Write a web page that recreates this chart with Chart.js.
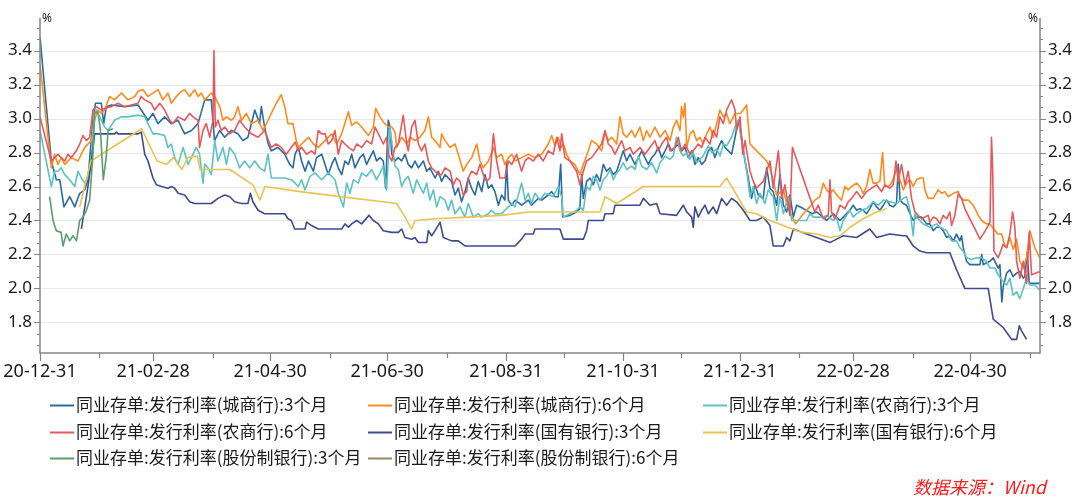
<!DOCTYPE html>
<html>
<head>
<meta charset="utf-8">
<script src="https://cdn.jsdelivr.net/npm/chart.js@4/dist/chart.umd.min.js"></script>
<style>
  html, body { margin: 0; padding: 0; background: #ffffff; }
  #wrap { width: 1080px; height: 498px; position: relative; }
  canvas { display: block; }
</style>
</head>
<body>
<div id="wrap"><canvas id="c" width="1080" height="498"></canvas></div>
<script>
// ---- Data: x = days since 2020-12-31, y = rate (%) ----
const seriesNames = [
  '同业存单:发行利率(城商行):3个月',
  '同业存单:发行利率(城商行):6个月',
  '同业存单:发行利率(农商行):3个月',
  '同业存单:发行利率(农商行):6个月',
  '同业存单:发行利率(国有银行):3个月',
  '同业存单:发行利率(国有银行):6个月',
  '同业存单:发行利率(股份制银行):3个月',
  '同业存单:发行利率(股份制银行):6个月'
];
const seriesColors = ['#2b6ba3','#ff8b1d','#5cc2c2','#e8585b','#3f4a8e','#e8c44f','#5a9f6c','#9c8068'];

const cityBank3M = [[0,3.48],[5.9,2.75],[8.5,2.64],[10.3,2.64],[12.5,2.48],[15.5,2.54],[18.1,2.48],[20.7,2.56],[23.3,2.58],[25,2.64],[27.6,2.99],[28.9,3.09],[32,3.09],[33.2,2.97],[34.6,3.07],[37.2,3.08],[44.1,3.07],[51.1,3.08],[56.3,2.99],[58.9,3.03],[61.5,2.97],[65,3.01],[68.5,2.97],[72,2.99],[75.4,2.91],[79,2.93],[82.4,2.97],[85.9,3.11],[89.3,3.11],[91,2.87],[93.7,2.93],[96.3,2.89],[99.8,2.93],[103.2,2.91],[105.8,2.87],[108.4,2.89],[112,3.05],[114.5,2.97],[115.4,3.07],[117.1,2.95],[119,2.85],[120.6,2.81],[124,2.83],[127.6,2.79],[130.2,2.73],[131.9,2.71],[133,2.79],[134.7,2.83],[136.4,2.75],[138.2,2.69],[140,2.75],[142.5,2.69],[144.2,2.77],[146.9,2.79],[148.6,2.73],[150.3,2.67],[152.1,2.73],[153.8,2.77],[155.5,2.71],[157.3,2.67],[159,2.75],[160.8,2.73],[162.5,2.79],[164.2,2.71],[166.8,2.77],[168.6,2.79],[170.3,2.73],[172,2.77],[173.8,2.81],[175.5,2.75],[177.3,2.77],[179,2.75],[180.2,2.59],[181.6,2.99],[182.5,2.95],[183.4,2.79],[185.1,2.75],[186.8,2.77],[188.6,2.75],[190.3,2.79],[192,2.73],[193.8,2.71],[195.5,2.75],[197.3,2.71],[199.9,2.75],[201.6,2.69],[203.3,2.71],[206,2.65],[207.7,2.69],[209.4,2.63],[211.2,2.67],[214.6,2.63],[216.4,2.55],[218.1,2.59],[219.8,2.51],[221.6,2.57],[223.3,2.65],[225,2.59],[226.8,2.55],[228.5,2.63],[230.3,2.57],[232,2.67],[233.8,2.59],[235.5,2.61],[237.2,2.57],[239,2.49],[240.7,2.55],[242.4,2.52],[243.3,2.75],[244.2,2.52],[246,2.49],[247.7,2.52],[251.1,2.49],[254.6,2.52],[256.3,2.49],[259.8,2.53],[261.6,2.52],[265,2.55],[266.8,2.57],[268.5,2.54],[270.2,2.54],[271.5,2.73],[272.5,2.42],[276.3,2.43],[279.8,2.45],[281.5,2.47],[282.4,2.67],[283.3,2.53],[285,2.63],[286.8,2.65],[288.5,2.61],[290.2,2.67],[292,2.63],[293.7,2.73],[295.4,2.69],[297.2,2.71],[298.9,2.67],[300.7,2.69],[302.4,2.75],[304.1,2.81],[305.9,2.75],[307.6,2.79],[310.2,2.73],[312,2.77],[313.7,2.81],[315.4,2.77],[317.2,2.73],[318.9,2.77],[320.6,2.79],[322.4,2.83],[324.1,2.77],[325.9,2.81],[327.6,2.85],[329.3,2.81],[331.1,2.83],[332.8,2.85],[334.5,2.81],[336.3,2.83],[338,2.77],[339.8,2.81],[341.5,2.73],[343.2,2.77],[345,2.73],[346.7,2.75],[348.5,2.81],[350.2,2.83],[351.9,2.77],[353.7,2.83],[355.4,2.87],[357.1,2.83],[358.9,2.81],[360.6,2.79],[362.4,2.89],[364.1,2.99],[365.8,2.89],[367.6,2.75],[369.3,2.65],[371,2.53],[372.8,2.61],[374.5,2.55],[377.1,2.53],[378.9,2.71],[380.6,2.59],[382.3,2.57],[384.1,2.49],[385.8,2.67],[387.6,2.49],[389.3,2.45],[391,2.55],[392.8,2.42],[394.5,2.49],[398,2.47],[402.5,2.44],[404.9,2.45],[408.4,2.42],[410.1,2.40],[411.9,2.42],[413.6,2.44],[415.3,2.42],[417.1,2.40],[418.8,2.42],[420.5,2.44],[422.3,2.46],[424,2.49],[425.8,2.46],[427.5,2.47],[429.2,2.46],[431,2.44],[432.7,2.47],[434.4,2.51],[436.2,2.48],[437.9,2.46],[439.7,2.49],[441.4,2.52],[443.1,2.49],[444.9,2.48],[446.6,2.50],[447.5,2.73],[448.4,2.52],[450.1,2.50],[451.8,2.49],[453.6,2.44],[455.3,2.40],[457,2.42],[459.6,2.42],[462.3,2.38],[464,2.38],[465.7,2.34],[467.5,2.36],[469.2,2.36],[470.9,2.34],[472.7,2.30],[474.4,2.31],[476.2,2.28],[477.9,2.32],[479.6,2.28],[480.5,2.31],[481.4,2.24],[483.1,2.16],[484.8,2.14],[487.5,2.14],[490.1,2.14],[491,2.20],[491.8,2.14],[495.3,2.16],[497,2.18],[499.6,2.12],[500.5,2.14],[501.5,1.92],[502.2,2.01],[504,2.09],[505.7,2.11],[507.4,2.07],[509.2,2.09],[510.9,2.10],[512.7,2.06],[513.5,2.07],[514.7,2.21],[515.8,2.03],[521.3,2.03]];

const cityBank6M = [[0,3.32],[5.9,2.71],[7.6,2.79],[9.4,2.73],[11.1,2.77],[12.9,2.73],[16.3,2.77],[19.8,2.75],[23.3,2.83],[26.8,2.87],[28.5,2.99],[30.2,3.05],[32,3.03],[33.7,3.05],[36.3,3.13],[38.9,3.11],[42.4,3.15],[45.9,3.11],[49.4,3.13],[51.1,3.16],[53.7,3.17],[56.3,3.13],[58.9,3.15],[61.5,3.17],[64.1,3.11],[66.7,3.15],[68.5,3.09],[71.1,3.13],[73.7,3.16],[75.4,3.17],[78,3.13],[80.6,3.17],[82.4,3.13],[84.1,3.15],[85.9,3.11],[87.6,3.13],[89.3,3.15],[91.1,3.13],[93.7,3.07],[95.4,2.99],[97.2,3.01],[99.8,2.99],[101.5,3.01],[103.2,3.07],[105,2.99],[107.6,3.03],[110.2,2.97],[113.7,2.99],[116.3,2.93],[118.9,2.99],[120.6,3.03],[123.2,3.09],[125.8,3.14],[127.6,3.07],[129.3,2.97],[131.9,2.97],[133.6,2.87],[134.9,2.83],[136.4,2.85],[138.2,2.87],[140,2.89],[142.5,2.85],[145.1,2.83],[148.6,2.87],[152.1,2.91],[154.7,2.85],[157.3,2.91],[160.8,3.04],[162.5,2.96],[165.1,2.98],[167.7,2.95],[171.2,2.90],[173.8,2.95],[175,3.06],[177.3,3.01],[179,2.98],[181.6,2.95],[183.4,2.95],[185.1,2.92],[186,2.83],[186.8,2.85],[188.6,2.89],[191.2,2.85],[193,2.89],[195.5,2.87],[198.1,2.89],[200.7,2.93],[202.5,3.01],[204.2,2.89],[206,2.87],[208.6,2.83],[209.4,2.91],[211.2,2.87],[213.8,2.83],[216.4,2.85],[218.1,2.79],[220.7,2.69],[222.5,2.73],[225.1,2.77],[227.7,2.85],[229.4,2.75],[231.1,2.71],[233.8,2.75],[236.4,2.83],[238.1,2.77],[240.7,2.79],[242.4,2.73],[244.2,2.77],[246,2.79],[247.7,2.75],[251.1,2.77],[254.6,2.79],[258.1,2.77],[261.6,2.79],[265,2.85],[266.8,2.90],[268.5,2.84],[270.2,2.89],[271.8,2.83],[272.9,2.85],[274.6,2.79],[276.3,2.75],[278.9,2.73],[281.5,2.67],[283.3,2.73],[285.9,2.81],[287.6,2.87],[290.2,2.85],[292.8,2.81],[294.6,2.92],[296.3,2.87],[298.1,2.89],[300.7,2.85],[302.4,3.01],[304.1,2.91],[305.9,2.89],[308.5,2.93],[310.2,2.89],[312.8,2.95],[314.6,2.87],[316.3,2.93],[318,2.89],[320.6,2.95],[323.3,2.89],[325.9,2.93],[328.5,2.87],[330.2,2.95],[331.9,2.99],[333.7,2.93],[334.5,3.07],[335.4,3.01],[336.3,3.09],[337.2,2.83],[338.9,2.91],[340.6,2.93],[342.4,2.87],[344.1,2.89],[345.8,2.85],[347.6,2.91],[349.3,2.95],[351,2.89],[352.8,2.97],[354.5,3.05],[356.3,3.01],[358,3.03],[359.7,2.97],[362.4,3.03],[365,3.03],[366.7,3.05],[368.4,3.08],[370.2,2.85],[371.9,2.83],[375.4,2.79],[378.9,2.75],[380.6,2.71],[384.1,2.55],[387.6,2.58],[389.3,2.50],[391,2.45],[394,2.38],[398,2.44],[401.4,2.48],[404,2.52],[406.6,2.54],[408.4,2.62],[410.1,2.58],[411.9,2.56],[413.6,2.58],[416.2,2.54],[417.9,2.52],[419.7,2.60],[421.4,2.58],[423.2,2.60],[425.8,2.62],[427.5,2.60],[429.2,2.56],[431,2.60],[432.7,2.70],[434.4,2.62],[436.2,2.62],[437.9,2.63],[439.3,2.80],[440.5,2.60],[442.3,2.60],[444,2.62],[446.6,2.70],[448.4,2.64],[450.1,2.58],[451.8,2.62],[453.6,2.64],[455.3,2.60],[457,2.64],[458.8,2.65],[460.5,2.65],[461.4,2.58],[463.1,2.53],[465.7,2.53],[468.3,2.58],[470.1,2.56],[471.8,2.57],[473.6,2.54],[476.2,2.56],[478.8,2.57],[479.6,2.54],[481.4,2.52],[484,2.52],[486.6,2.49],[489.2,2.43],[490.9,2.40],[493.5,2.38],[495.3,2.38],[497.9,2.34],[499.6,2.32],[501.4,2.32],[503.1,2.25],[504,2.24],[505.7,2.30],[507.4,2.23],[509.2,2.29],[510.9,2.16],[512.7,2.12],[514.4,2.18],[516.1,2.34],[518.7,2.24],[521.3,2.18]];

const ruralBank3M = [[0,2.93],[5.9,2.60],[7.6,2.69],[9.4,2.69],[11.1,2.71],[12.9,2.67],[15.5,2.64],[18.1,2.60],[19.8,2.69],[21.6,2.65],[23.3,2.62],[25,2.65],[26.8,2.75],[28.2,3.03],[29.4,3.05],[31.1,3.01],[33.7,2.95],[35.5,2.93],[38.9,2.99],[42.4,3.01],[45.9,3.01],[51.1,3.02],[54.6,3.01],[57.2,2.95],[58.9,2.91],[61.5,2.91],[65,2.90],[66.7,2.83],[68.5,2.85],[70.2,2.77],[72,2.73],[74.6,2.83],[77.2,2.73],[79.8,2.79],[81.5,2.83],[83.2,2.79],[85,2.62],[85.9,2.73],[87.6,2.71],[89.3,2.67],[91.1,2.87],[92.8,2.75],[95.4,2.83],[97.2,2.73],[98.9,2.83],[101.5,2.79],[104.1,2.71],[106.7,2.75],[109.3,2.71],[112,2.75],[114.5,2.71],[117.1,2.69],[118.9,2.79],[120.6,2.65],[124,2.65],[127.6,2.65],[131,2.64],[133,2.62],[134.7,2.60],[136.4,2.64],[138.2,2.58],[140.8,2.66],[143.4,2.68],[145.1,2.66],[146.9,2.64],[150.3,2.68],[152.1,2.66],[153.8,2.64],[155.5,2.56],[158.2,2.48],[159.9,2.62],[161.6,2.56],[163.4,2.64],[166,2.62],[167.7,2.68],[170.3,2.66],[172.9,2.70],[175.5,2.64],[177.3,2.68],[179,2.72],[180.7,2.58],[182.5,2.95],[184.2,2.79],[185.1,2.72],[186.8,2.70],[188.6,2.60],[190.3,2.64],[192,2.66],[194.6,2.56],[196.4,2.64],[198.1,2.60],[199.9,2.56],[201.6,2.62],[203.3,2.52],[205.1,2.58],[206.8,2.48],[208.6,2.54],[211.2,2.52],[212.9,2.46],[214.6,2.52],[216.4,2.44],[219,2.48],[221.6,2.42],[223.3,2.50],[225.9,2.42],[228.5,2.44],[230.3,2.42],[233.8,2.44],[235.5,2.46],[237.2,2.44],[240.7,2.44],[242.4,2.46],[246,2.50],[247.7,2.48],[251.1,2.62],[252.9,2.52],[254.6,2.56],[256.3,2.50],[258.1,2.56],[260.7,2.52],[263.3,2.56],[265.9,2.55],[267.6,2.54],[270.2,2.60],[272,2.54],[272.9,2.42],[276.3,2.44],[279.8,2.46],[281.5,2.48],[283.3,2.46],[285,2.60],[286.8,2.58],[288.5,2.66],[290.2,2.64],[292,2.58],[293.7,2.64],[295.4,2.66],[297.2,2.70],[298.9,2.64],[300.7,2.68],[302.4,2.70],[304.1,2.74],[305.9,2.70],[308.5,2.72],[310.2,2.70],[312,2.78],[313.7,2.72],[316.3,2.70],[318.9,2.74],[321.5,2.68],[323.3,2.74],[325.9,2.78],[328.5,2.76],[330.2,2.78],[331.9,2.89],[333.7,2.81],[335.4,2.78],[337.2,2.80],[338.9,2.76],[340.6,2.80],[342.4,2.74],[344.1,2.76],[345.8,2.78],[348.5,2.84],[350.2,2.80],[352.8,2.82],[354.5,2.78],[356.3,2.85],[358,2.84],[360.6,2.89],[362.4,2.95],[364.1,2.99],[365.8,2.87],[368.4,2.70],[370.2,2.54],[371.9,2.60],[373.6,2.50],[375.4,2.56],[378,2.50],[379.7,2.58],[382.3,2.54],[384.1,2.40],[385.8,2.54],[387.6,2.44],[390.2,2.54],[391.9,2.40],[394.5,2.40],[399.7,2.40],[401.4,2.44],[403.2,2.42],[404.9,2.42],[408.4,2.42],[410.1,2.43],[413.6,2.40],[415.3,2.42],[417.1,2.34],[418.8,2.40],[422.3,2.46],[424,2.42],[425.8,2.44],[428.4,2.46],[431,2.47],[432.7,2.49],[434.4,2.51],[437.1,2.49],[439.7,2.52],[443.1,2.51],[446.6,2.50],[450.1,2.53],[451.8,2.54],[453.6,2.46],[455.3,2.31],[456.2,2.44],[457,2.42],[460.5,2.38],[464,2.36],[467.5,2.38],[469.2,2.36],[472.7,2.34],[475.3,2.28],[477.9,2.28],[479.6,2.24],[481.4,2.22],[483.1,2.18],[485.7,2.17],[488.3,2.18],[490.9,2.18],[493.5,2.16],[495.3,2.12],[497.9,2.12],[499.6,2.08],[502.2,2.04],[504,2.02],[505.7,2.06],[507.4,1.96],[509.2,1.98],[510.9,1.94],[512.7,2.00],[514.4,2.06],[516.1,2.02],[518.7,2.02],[521.3,1.99]];

const ruralBank6M = [[0,3.01],[5.9,2.75],[7.6,2.77],[9.4,2.79],[11.1,2.77],[12.9,2.75],[14.6,2.79],[16.3,2.77],[18.9,2.81],[20.7,2.85],[22.4,2.90],[24.2,2.87],[25.9,2.89],[27.6,3.05],[29.4,3.07],[32,3.05],[33.7,3.06],[37.2,3.07],[40.7,3.09],[44.1,3.07],[47.6,3.08],[51.1,3.09],[52.8,3.13],[54.6,3.11],[58,3.09],[59.8,3.05],[62.4,3.09],[65,3.05],[67.6,2.99],[69.3,2.97],[72,3.01],[75.4,2.99],[78,3.03],[79.8,3.01],[82.4,2.99],[83.2,2.83],[85,2.93],[86.7,2.97],[88.5,2.89],[90.2,2.99],[90.7,3.40],[91.4,2.95],[92.8,2.99],[94.5,2.93],[96.3,2.95],[98.9,2.91],[101.5,2.93],[104.1,2.99],[106.7,2.95],[110.2,2.91],[113.7,2.89],[117.1,2.93],[120.6,2.83],[123.2,2.85],[125.8,2.83],[128.4,2.79],[131,2.83],[133,2.86],[134.7,2.81],[136.4,2.83],[139,2.79],[141.6,2.81],[143.4,2.79],[145.1,2.93],[146.9,2.91],[148.6,2.91],[150.3,2.85],[152.1,2.87],[153.8,2.93],[155.5,2.79],[157.3,2.87],[159,2.85],[160.8,2.83],[163.4,2.81],[165.1,2.85],[167.7,2.83],[170.3,2.87],[172.9,2.85],[174.7,2.95],[177.3,2.89],[179,2.85],[180.7,2.89],[181.6,2.79],[183.4,2.75],[185.1,2.83],[186.8,2.85],[189.4,3.02],[191.2,2.85],[192,2.81],[193.8,2.95],[195.5,2.99],[197.3,2.85],[199,2.81],[200.7,2.85],[202.5,2.75],[204.2,2.71],[206,2.69],[207.7,2.67],[209.4,2.67],[211.2,2.71],[213.8,2.69],[215.5,2.61],[217.2,2.65],[219,2.63],[220.7,2.55],[222.5,2.57],[223.3,2.65],[225.1,2.69],[227.7,2.67],[229.4,2.73],[231.1,2.67],[232.9,2.63],[234.6,2.65],[236.4,2.91],[238.1,2.75],[239.8,2.65],[242.4,2.65],[244.2,2.75],[246,2.73],[248.5,2.79],[251.1,2.69],[252.9,2.75],[254.6,2.77],[257.2,2.75],[259.8,2.79],[262.4,2.75],[265,2.81],[267.6,2.79],[269.4,2.89],[271.1,2.81],[272,2.91],[273.7,2.77],[276.3,2.75],[279.8,2.69],[281.5,2.61],[283.3,2.69],[285,2.75],[287.6,2.77],[290.2,2.81],[292.8,2.85],[294.6,2.93],[296.3,2.85],[298.1,2.83],[299.8,2.79],[301.5,2.83],[303.3,2.87],[305,2.81],[307.6,2.83],[309.3,2.79],[311.1,2.81],[312.8,2.83],[315.4,2.79],[318,2.83],[320.6,2.87],[322.4,2.81],[324.1,2.85],[326.7,2.89],[328.5,2.81],[331.1,2.83],[332.8,2.89],[334.5,2.81],[336.3,2.85],[338.9,2.79],[340.6,2.81],[343.2,2.85],[345,2.83],[346.7,2.89],[349.3,2.85],[351,2.93],[352.8,2.89],[354.5,3.01],[356.3,2.97],[358,3.05],[359.7,3.09],[360.6,3.11],[362.4,3.05],[363.2,2.93],[365,3.01],[366.4,2.79],[367.6,2.87],[370.2,2.69],[371.9,2.63],[373.6,2.59],[377.1,2.63],[380.6,2.75],[382.3,2.59],[385,2.81],[386.7,2.53],[388.4,2.61],[391,2.43],[392.3,2.83],[404,2.45],[405.8,2.49],[408.4,2.41],[411,2.43],[411.9,2.64],[412.7,2.45],[414.5,2.41],[417.1,2.49],[419.7,2.47],[421.4,2.51],[423.2,2.53],[425.8,2.57],[428.4,2.53],[431,2.57],[433.6,2.59],[436.2,2.61],[438.8,2.57],[440.5,2.61],[443.1,2.59],[444.9,2.61],[446.3,2.75],[447.5,2.63],[449.2,2.73],[451,2.61],[452.7,2.69],[454.4,2.53],[456.2,2.45],[457.9,2.43],[459.6,2.41],[461.4,2.42],[463.1,2.43],[464,2.39],[465.7,2.42],[467.5,2.41],[469.2,2.38],[470.9,2.43],[472.7,2.41],[474.4,2.45],[475.3,2.37],[477,2.43],[478.8,2.56],[480.5,2.53],[482.2,2.47],[484.8,2.41],[487.5,2.35],[490.1,2.29],[491.8,2.32],[494.4,2.37],[495.3,2.39],[496.1,2.89],[496.7,2.71],[497.4,2.22],[499.6,2.18],[502.2,2.26],[504,2.24],[505.7,2.32],[507.1,2.45],[508.3,2.36],[509.2,2.16],[510.9,2.06],[512.7,2.16],[514.4,2.03],[515.8,2.33],[517,2.08],[521.3,2.10]];

const stateBank3M = [[21.6,2.35],[25,2.60],[26.8,2.75],[28.5,2.91],[38.9,2.91],[39.8,2.92],[40.7,2.91],[51.1,2.91],[52.8,2.92],[54.6,2.79],[56.3,2.75],[58.9,2.65],[60.7,2.61],[63.3,2.60],[66.7,2.59],[68.5,2.60],[70.2,2.59],[72,2.56],[75.4,2.55],[78,2.51],[80.6,2.50],[89.3,2.50],[92.8,2.53],[96.3,2.55],[98.9,2.54],[101.5,2.51],[105,2.50],[108.4,2.50],[109.7,2.56],[111,2.51],[113.7,2.46],[117.1,2.44],[127.6,2.44],[129.3,2.41],[131,2.40],[132.8,2.35],[138.2,2.35],[139,2.39],[141.6,2.37],[145.1,2.35],[157.3,2.35],[159,2.38],[160.8,2.36],[162.5,2.38],[165.1,2.40],[167.7,2.38],[171.5,2.43],[173.8,2.40],[176.4,2.38],[179,2.34],[183.4,2.33],[186.8,2.33],[188.6,2.35],[190.3,2.30],[193.8,2.29],[195.5,2.30],[197.3,2.27],[201.6,2.27],[202.5,2.34],[204.2,2.31],[206,2.34],[208.6,2.39],[210.3,2.30],[214.6,2.28],[218.1,2.28],[221.6,2.25],[247.7,2.25],[251.1,2.29],[252.9,2.32],[257.2,2.32],[258.1,2.35],[271.1,2.35],[272.9,2.29],[283.3,2.29],[285,2.34],[285.9,2.40],[293.7,2.40],[294.6,2.44],[298.9,2.44],[299.8,2.49],[312.8,2.49],[314.6,2.53],[316.3,2.51],[318,2.49],[321.5,2.50],[323.3,2.44],[331.9,2.43],[335.4,2.49],[337.2,2.45],[339.8,2.42],[340.6,2.36],[341.5,2.48],[343.2,2.42],[345,2.46],[346.7,2.49],[348.5,2.44],[351,2.48],[352.8,2.44],[355.4,2.53],[358,2.49],[360.6,2.53],[363.2,2.51],[366.7,2.46],[370.2,2.40],[373.6,2.40],[377.1,2.42],[380.6,2.37],[382.3,2.25],[387.6,2.25],[389.3,2.30],[391,2.28],[392.8,2.35],[399.7,2.32],[404.9,2.30],[411.9,2.27],[413.6,2.28],[418.8,2.31],[425.8,2.30],[432.7,2.35],[436.2,2.30],[443.1,2.32],[450.1,2.31],[451.8,2.31],[455.3,2.25],[458.8,2.22],[462.3,2.21],[474.4,2.21],[477.9,2.11],[482.2,2.00],[494.4,2.00],[497,1.82],[502.2,1.77],[506.6,1.70],[509.2,1.70],[510.6,1.78],[511.8,1.75],[514.4,1.70]];

const stateBank6M = [[20.7,2.48],[26.5,2.75],[53,2.94],[61,2.75],[66,2.73],[69.5,2.77],[74,2.70],[77,2.77],[82,2.78],[83.5,2.70],[99,2.70],[111,2.61],[114.7,2.52],[117.3,2.60],[135.6,2.57],[186,2.50],[190.3,2.42],[193.8,2.35],[195.5,2.40],[206,2.41],[223.3,2.42],[240.7,2.43],[254.6,2.45],[292,2.45],[294.6,2.54],[300.7,2.50],[314.6,2.60],[354.5,2.60],[358,2.65],[368.4,2.45],[373.6,2.44],[380.6,2.40],[387.6,2.37],[394.5,2.34],[398,2.33],[404.9,2.32],[411.9,2.30],[417.1,2.31],[422.3,2.36],[429.2,2.41],[436.2,2.45],[441.4,2.47]];

const jointBank3M = [[5,2.54],[6.8,2.40],[8.5,2.34],[11,2.33],[12,2.25],[13.7,2.32],[15.5,2.28],[17.2,2.31],[19,2.28],[20.7,2.40],[22.4,2.42],[24.2,2.46],[25.9,2.52],[27.6,2.79],[28.5,3.03],[30.2,3.04],[31.5,2.93],[33,2.64],[34.5,2.77],[35.5,2.93],[38,2.94]];

const jointBank6M = [];

// ---- Axis ticks ----
const xMajorDays   = [0, 59, 120, 181, 243, 304, 365, 424, 485];
const xMajorLabels = ['20-12-31','21-02-28','21-04-30','21-06-30','21-08-31','21-10-31','21-12-31','22-02-28','22-04-30'];
const xMinorDays   = [31, 90, 151, 212, 273, 334, 396, 455, 516];
const yMajorTicks  = [1.8, 2.0, 2.2, 2.4, 2.6, 2.8, 3.0, 3.2, 3.4];
const yLabels      = ['1.8','2.0','2.2','2.4','2.6','2.8','3.0','3.2','3.4'];
const yMin = 1.62, yMax = 3.58, xMin = 0, xMax = 521.4;

const allSeries = [cityBank3M, cityBank6M, ruralBank3M, ruralBank6M, stateBank3M, stateBank6M, jointBank3M, jointBank6M];

const datasets = allSeries.map((arr, i) => ({
  label: seriesNames[i],
  data: arr.map(p => ({ x: p[0], y: p[1] })),
  borderColor: seriesColors[i],
  backgroundColor: seriesColors[i],
  borderWidth: 1.6,
  pointRadius: 0,
  tension: 0,
  fill: false,
  order: allSeries.length - i
}));

// minor y ticks: three subdivisions per 0.2
const yMinorTicks = [];
for (let k = 8; k <= 18; k++) {
  const base = k * 0.2;
  [1, 2].forEach(j => {
    const v = base + j * 0.2 / 3;
    if (v > yMin && v < yMax) yMinorTicks.push(v);
  });
}

const AXIS = '#858585';
const TXT = '#1a1a1a';

const windPlugin = {
  id: 'windAxes',
  beforeDraw(chart) {
    const ctx = chart.ctx;
    ctx.save();
    ctx.fillStyle = '#ffffff';
    ctx.fillRect(0, 0, chart.width, chart.height);
    ctx.restore();
  },
  beforeDatasetsDraw(chart) {
    const { ctx, chartArea: a, scales: { y } } = chart;
    ctx.save();
    ctx.strokeStyle = '#e8e8e8';
    ctx.lineWidth = 1;
    yMajorTicks.forEach(v => {
      const py = Math.round(y.getPixelForValue(v)) + 0.5;
      ctx.beginPath(); ctx.moveTo(a.left, py); ctx.lineTo(a.right, py); ctx.stroke();
    });
    ctx.restore();
  },
  afterDatasetsDraw(chart) {
    const { ctx, chartArea: a, scales: { x, y } } = chart;
    ctx.save();
    // axis lines
    ctx.strokeStyle = AXIS;
    ctx.lineWidth = 1.5;
    ctx.beginPath();
    ctx.moveTo(a.left, a.top - 2); ctx.lineTo(a.left, a.bottom);
    ctx.lineTo(a.right, a.bottom); ctx.lineTo(a.right, a.top - 2);
    ctx.stroke();
    // y ticks
    ctx.lineWidth = 1.2;
    yMajorTicks.forEach(v => {
      const py = Math.round(y.getPixelForValue(v)) + 0.5;
      ctx.beginPath();
      ctx.moveTo(a.left - 6, py); ctx.lineTo(a.left, py);
      ctx.moveTo(a.right, py); ctx.lineTo(a.right + 6, py);
      ctx.stroke();
    });
    yMinorTicks.forEach(v => {
      const py = Math.round(y.getPixelForValue(v)) + 0.5;
      ctx.beginPath();
      ctx.moveTo(a.left - 3, py); ctx.lineTo(a.left, py);
      ctx.moveTo(a.right, py); ctx.lineTo(a.right + 3, py);
      ctx.stroke();
    });
    // x ticks
    xMajorDays.forEach(d => {
      const px = Math.round(x.getPixelForValue(d)) + 0.5;
      ctx.beginPath(); ctx.moveTo(px, a.bottom); ctx.lineTo(px, a.bottom + 8); ctx.stroke();
    });
    xMinorDays.forEach(d => {
      const px = Math.round(x.getPixelForValue(d)) + 0.5;
      ctx.beginPath(); ctx.moveTo(px, a.bottom); ctx.lineTo(px, a.bottom + 5); ctx.stroke();
    });
    // y labels
    ctx.fillStyle = TXT;
    ctx.font = '17px "Noto Sans", "DejaVu Sans", sans-serif';
    ctx.textBaseline = 'middle';
    yMajorTicks.forEach((v, i) => {
      const py = y.getPixelForValue(v);
      ctx.textAlign = 'right';
      ctx.fillText(yLabels[i], a.left - 8, py);
      ctx.textAlign = 'left';
      ctx.fillText(yLabels[i], a.right + 8, py);
    });
    // x labels
    ctx.font = '18px "Noto Sans", "DejaVu Sans", sans-serif';
    ctx.textAlign = 'center';
    xMajorDays.forEach((d, i) => {
      ctx.fillText(xMajorLabels[i], x.getPixelForValue(d), a.bottom + 19);
    });
    // unit labels
    ctx.font = '12px "Noto Sans", sans-serif';
    ctx.textAlign = 'left';
    ctx.fillText('%', a.left + 2, a.top - 1);
    ctx.textAlign = 'right';
    ctx.fillText('%', a.right - 2, a.top - 1);
    // legend (3 columns)
    const colX = [50, 368, 703];
    const rowY = [405, 432, 458];
    ctx.font = '17px "Noto Sans CJK SC", "Noto Sans", sans-serif';
    ctx.textAlign = 'left';
    chart.data.datasets.forEach((ds, i) => {
      const cx = colX[i % 3], cy = rowY[Math.floor(i / 3)];
      ctx.strokeStyle = ds.borderColor;
      ctx.lineWidth = 2;
      ctx.beginPath(); ctx.moveTo(cx, cy + 0.5); ctx.lineTo(cx + 24, cy + 0.5); ctx.stroke();
      ctx.fillStyle = TXT;
      ctx.fillText(ds.label, cx + 26, cy);
    });
    // source
    ctx.fillStyle = '#ff1a1a';
    ctx.font = 'italic 18px "Noto Sans CJK SC", "Noto Sans", sans-serif';
    ctx.textAlign = 'right';
    ctx.fillText('数据来源：Wind', 1046, 487);
    ctx.restore();
  }
};

new Chart(document.getElementById('c'), {
  type: 'line',
  data: { datasets },
  options: {
    responsive: false,
    animation: false,
    devicePixelRatio: 1,
    layout: { padding: { left: 40, right: 40, top: 20, bottom: 145 } },
    scales: {
      x: { type: 'linear', min: xMin, max: xMax, display: false },
      y: { type: 'linear', min: yMin, max: yMax, display: false }
    },
    plugins: { legend: { display: false }, tooltip: { enabled: false } },
    elements: { line: { borderJoinStyle: 'round' } }
  },
  plugins: [windPlugin]
});
</script>
</body>
</html>
